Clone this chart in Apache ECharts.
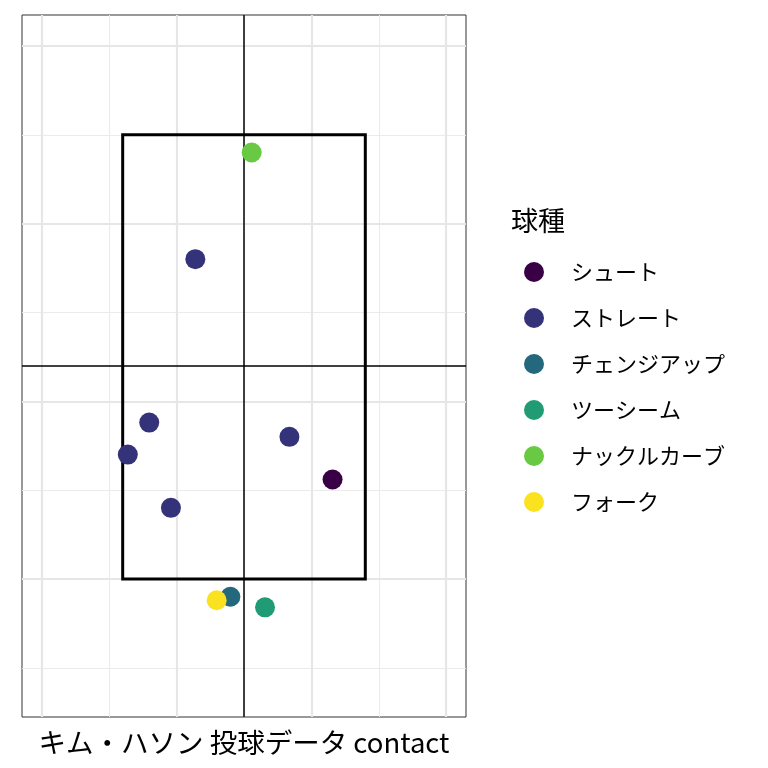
<!DOCTYPE html>
<html><head><meta charset="utf-8">
<script src="https://cdn.jsdelivr.net/npm/echarts@6/dist/echarts.min.js"></script>
</head><body style="margin:0;background:#fff">
<div id="c" style="width:768px;height:768px"></div>
<script>
const pitchTypes = ['シュート','ストレート','チェンジアップ','ツーシーム','ナックルカーブ','フォーク'];
const colors = ['#3a0046','#343278','#23687d','#209b73','#6ac942','#fbe220'];
const pitchType = ['ナックルカーブ','ストレート','ストレート','ストレート','ストレート','シュート','ストレート','チェンジアップ','フォーク','ツーシーム'];
const plateX = [0.057,-0.361,-0.703,-0.862,0.337,0.657,-0.542,-0.101,-0.203,0.156];
const plateZ = [3.40,2.80,1.88,1.70,1.80,1.56,1.40,0.90,0.88,0.84];
const zoneX = [-0.9, 0.9];
const zoneZ = [1.0, 3.5];
const crossX = 0;
const crossZ = 2.2;
const xMajor = [-1.5,-0.5,0.5,1.5];
const xMinor = [-1,0,1];
const yMajor = [1,2,3,4];
const yMinor = [0.5,1.5,2.5,3.5];
const xLim = [-1.647, 1.647];
const yLim = [0.223, 4.174];
const FONT = '"Noto Sans CJK JP", "Noto Sans", sans-serif';

const chart = echarts.init(document.getElementById('c'));
const gridLines = [];
xMinor.forEach(v => gridLines.push({xAxis: v, lineStyle: {color: '#EBEBEB', width: 1.1, type: 'solid'}}));
yMinor.forEach(v => gridLines.push({yAxis: v, lineStyle: {color: '#EBEBEB', width: 1.1, type: 'solid'}}));
xMajor.forEach(v => gridLines.push({xAxis: v, lineStyle: {color: '#E6E6E6', width: 2.2, type: 'solid'}}));
yMajor.forEach(v => gridLines.push({yAxis: v, lineStyle: {color: '#E6E6E6', width: 2.2, type: 'solid'}}));

const zonePath = [
  [zoneX[0], zoneZ[0]], [zoneX[1], zoneZ[0]], [zoneX[1], zoneZ[1]], [zoneX[0], zoneZ[1]], [zoneX[0], zoneZ[0]]
];

const series = [
  {
    type: 'line', name: 'grid', data: [], z: 0, silent: true,
    markLine: { z: 0, silent: true, symbol: ['none','none'], label: {show: false}, animation: false, data: gridLines }
  },
  {
    type: 'line', name: 'cross', data: [], z: 1, silent: true,
    markLine: { z: 1, silent: true, symbol: ['none','none'], label: {show: false}, animation: false,
      data: [{xAxis: crossX}, {yAxis: crossZ}], lineStyle: {color: '#000', width: 1.5, type: 'solid'} }
  },
  {
    type: 'line', name: 'zone', data: zonePath, z: 2, silent: true, symbol: 'none',
    lineStyle: {color: '#000', width: 3, cap: 'square', join: 'miter'}, animation: false
  }
];
pitchTypes.forEach((t, i) => {
  const d = [];
  pitchType.forEach((p, j) => { if (p === t) d.push([plateX[j], plateZ[j]]); });
  series.push({
    type: 'scatter', name: t, data: d, symbolSize: 20, z: 10 + i,
    itemStyle: {color: colors[i], opacity: 1}, animation: false
  });
});

chart.setOption({
  animation: false,
  title: { text: '球種', left: 506, top: 202, textStyle: {fontFamily: FONT, fontSize: 27, fontWeight: 'normal', color: '#000'} },
  legend: {
    data: pitchTypes, orient: 'vertical', left: 519, top: 256,
    icon: 'circle', itemWidth: 20, itemHeight: 20, itemGap: 24,
    textStyle: {fontFamily: FONT, fontSize: 22, color: '#000', padding: [0,0,0,22]}
  },
  grid: { left: 22, top: 15, width: 444, height: 702, show: true, borderColor: '#333', borderWidth: 1, backgroundColor: '#fff' },
  xAxis: {
    type: 'value', min: xLim[0], max: xLim[1],
    axisLine: {show: false}, axisTick: {show: false}, axisLabel: {show: false}, splitLine: {show: false},
    name: 'キム・ハソン 投球データ contact', nameLocation: 'middle', nameGap: 12,
    nameTextStyle: {fontFamily: FONT, fontSize: 27.5, color: '#000', verticalAlign: 'top'}
  },
  yAxis: {
    type: 'value', min: yLim[0], max: yLim[1],
    axisLine: {show: false}, axisTick: {show: false}, axisLabel: {show: false}, splitLine: {show: false}
  },
  series: series
});
</script>
</body></html>
